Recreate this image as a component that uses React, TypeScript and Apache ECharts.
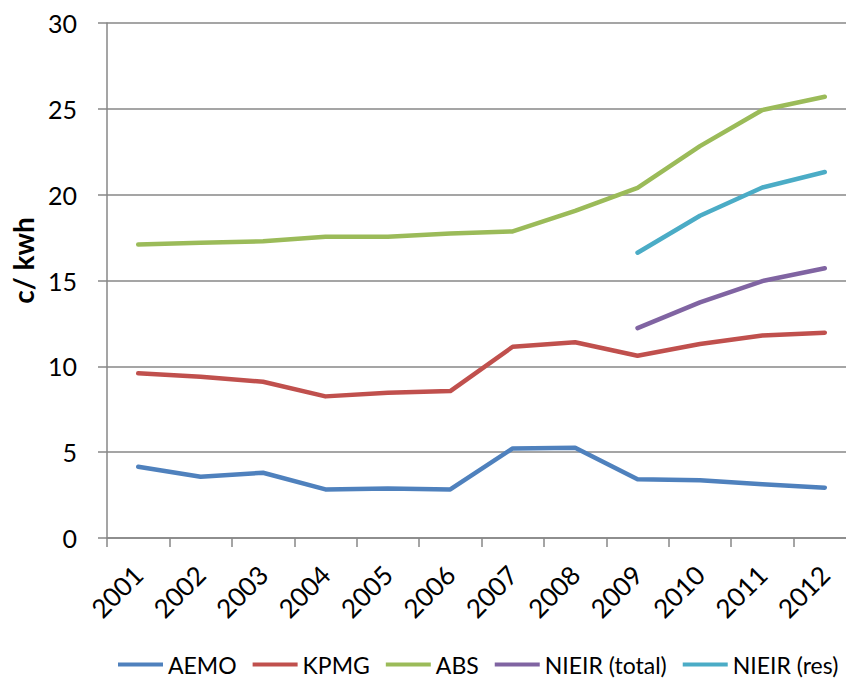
import React, { useEffect, useRef } from "react";
import * as echarts from "echarts";

const years = ["2001", "2002", "2003", "2004", "2005", "2006", "2007", "2008", "2009", "2010", "2011", "2012"];
const aemo = [4.15, 3.57, 3.8, 2.83, 2.89, 2.83, 5.22, 5.26, 3.42, 3.36, 3.13, 2.93];
const kpmg = [9.59, 9.4, 9.1, 8.25, 8.46, 8.56, 11.14, 11.4, 10.62, 11.3, 11.8, 11.96];
const abs = [17.1, 17.2, 17.28, 17.55, 17.55, 17.74, 17.86, 19.06, 20.4, 22.83, 24.93, 25.7];
const nieirTotal = [null, null, null, null, null, null, null, null, 12.23, 13.73, 14.97, 15.71];
const nieirRes = [null, null, null, null, null, null, null, null, 16.62, 18.77, 20.42, 21.32];

const seriesNames = ["AEMO", "KPMG", "ABS", "NIEIR (total)", "NIEIR (res)"];
const seriesColors = ["#4F81BD", "#C0504D", "#9BBB59", "#8064A2", "#4BACC6"];
const seriesValues = [aemo, kpmg, abs, nieirTotal, nieirRes];

const FONT = "Lato, 'Open Sans', sans-serif";
const AXIS_GREY = "#878787";

export default function App() {
  const ref = useRef<HTMLDivElement>(null);

  useEffect(() => {
    if (!ref.current) return;
    const chart = echarts.init(ref.current, undefined, { renderer: "svg" });
    chart.setOption({
      animation: false,
      backgroundColor: "#ffffff",
      textStyle: { fontFamily: FONT },
      // the chart canvas is wider than the visible frame, so the last band is clipped on the right
      grid: { left: 107, right: 4, top: 23, bottom: 142, containLabel: false },
      legend: {
        left: 113,
        top: 648,
        width: 740,
        icon: "rect",
        itemWidth: 45,
        itemHeight: 4,
        itemGap: 16,
        textStyle: { fontFamily: FONT, fontSize: 23, color: "#000" },
        data: seriesNames,
      },
      xAxis: {
        type: "category",
        data: years,
        boundaryGap: true,
        axisLine: { lineStyle: { color: AXIS_GREY, width: 1.5 } },
        axisTick: { show: true, length: 9, alignWithLabel: false, lineStyle: { color: AXIS_GREY, width: 1.5 } },
        axisLabel: { rotate: 45, margin: 32, fontSize: 26, color: "#000", fontFamily: FONT, interval: 0 },
        splitLine: { show: false },
      },
      yAxis: {
        type: "value",
        min: 0,
        max: 30,
        interval: 5,
        name: "c/ kwh",
        nameLocation: "middle",
        nameGap: 69,
        nameRotate: 90,
        nameTextStyle: { fontFamily: FONT, fontSize: 28, fontWeight: "bold", color: "#000", padding: [0, 0, 0, 40] },
        axisLine: { show: true, lineStyle: { color: AXIS_GREY, width: 1.5 } },
        axisTick: { show: true, inside: false, length: 9, lineStyle: { color: AXIS_GREY, width: 1.5 } },
        axisLabel: { margin: 30, fontSize: 25, color: "#000", fontFamily: FONT },
        splitLine: { show: true, lineStyle: { color: AXIS_GREY, width: 1.5 } },
      },
      series: seriesNames.map((name, i) => ({
        name,
        type: "line",
        data: seriesValues[i],
        symbol: "none",
        connectNulls: false,
        color: seriesColors[i],
        lineStyle: { width: 4.5, color: seriesColors[i], cap: "round", join: "round" },
      })),
    });
    return () => chart.dispose();
  }, []);

  return (
    <div
      style={{ position: "absolute", left: 0, top: 0, width: 846, height: 680, overflow: "hidden", background: "#fff" }}
    >
      <div ref={ref} style={{ width: 860, height: 680 }} />
    </div>
  );
}
